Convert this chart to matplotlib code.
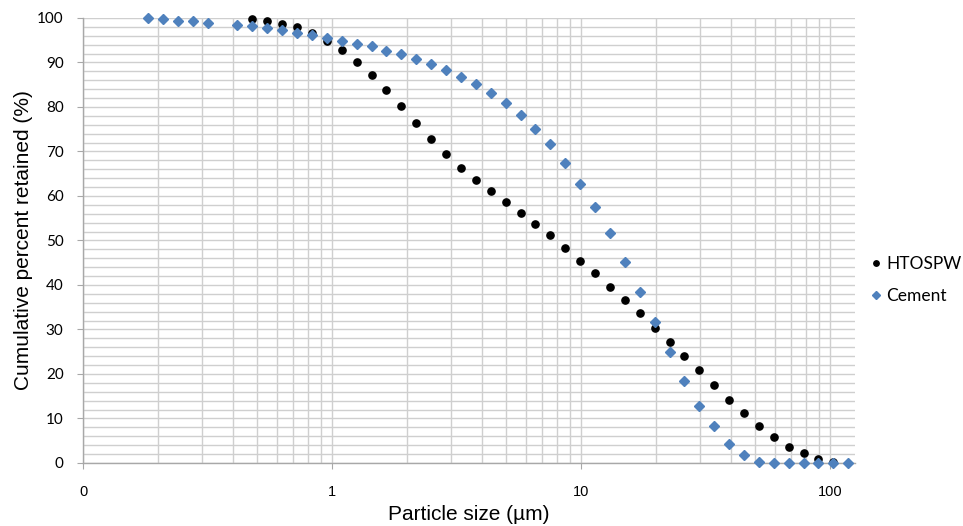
import matplotlib
matplotlib.use("Agg")
import matplotlib.pyplot as plt
from matplotlib.ticker import MultipleLocator, LogLocator, NullFormatter

# particle size classes (um)
cement_size = [0.182, 0.209, 0.240, 0.276, 0.317, 0.417, 0.479, 0.549, 0.630,
               0.722, 0.830, 0.953, 1.094, 1.256, 1.441, 1.654, 1.898, 2.179,
               2.500, 2.870, 3.293, 3.780, 4.338, 4.979, 5.714, 6.558, 7.527,
               8.638, 9.914, 11.38, 13.06, 14.99, 17.20, 19.74, 22.66, 26.00,
               29.84, 34.25, 39.31, 45.11, 51.78, 59.42, 68.20, 78.27, 89.83,
               103.1, 118.3]
cement_retained = [100.0, 99.7, 99.4, 99.4, 98.9, 98.5, 98.2, 97.7, 97.2,
                   96.7, 96.1, 95.5, 94.9, 94.2, 93.6, 92.5, 91.9, 90.8,
                   89.6, 88.2, 86.7, 85.1, 83.1, 80.8, 78.3, 75.1, 71.6,
                   67.5, 62.8, 57.5, 51.6, 45.1, 38.5, 31.6, 24.9, 18.4,
                   12.7, 8.2, 4.3, 1.8, 0.2, 0.0, 0.0, 0.0, 0.0,
                   0.0, 0.0]

htospw_size = [0.479, 0.549, 0.630, 0.722, 0.830, 0.953, 1.094, 1.256, 1.441,
               1.654, 1.898, 2.179, 2.500, 2.870, 3.293, 3.780, 4.338, 4.979,
               5.714, 6.558, 7.527, 8.638, 9.914, 11.38, 13.06, 14.99, 17.20,
               19.74, 22.66, 26.00, 29.84, 34.25, 39.31, 45.11, 51.78, 59.42,
               68.20, 78.27, 89.83, 103.1]
htospw_retained = [99.8, 99.3, 98.7, 98.0, 96.6, 94.8, 92.7, 90.2, 87.2,
                   83.8, 80.2, 76.3, 72.7, 69.4, 66.3, 63.7, 61.2, 58.6,
                   56.2, 53.7, 51.2, 48.4, 45.5, 42.6, 39.6, 36.6, 33.7,
                   30.4, 27.3, 24.0, 20.9, 17.6, 14.2, 11.2, 8.3, 5.8,
                   3.7, 2.2, 1.0, 0.2]

xtick_pos = [0.1, 1, 10, 100]
xtick_labels = ["0", "1", "10", "100"]

fig = plt.figure(figsize=(9.63, 5.26), dpi=100)
ax = fig.add_axes([0.0862, 0.1198, 0.8017, 0.8460])

ax.plot(htospw_size, htospw_retained, 'o', color='black', markersize=5.2,
        linestyle='none', label='HTOSPW', clip_on=False, zorder=3)
ax.plot(cement_size, cement_retained, 'D', color='#4F81BD', markersize=5.6,
        linestyle='none', label='Cement', clip_on=False, zorder=4)

ax.set_xscale('log')
ax.set_xlim(0.1, 126)
ax.set_ylim(0, 100)

ax.set_xticks(xtick_pos, labels=xtick_labels)
ax.xaxis.set_minor_locator(LogLocator(base=10, subs=range(2, 10), numticks=20))
ax.xaxis.set_minor_formatter(NullFormatter())
ax.yaxis.set_major_locator(MultipleLocator(10))
ax.yaxis.set_minor_locator(MultipleLocator(2))

ax.grid(which='both', color='#cfcfcf', linewidth=1.0)
ax.set_axisbelow(True)

for s in ['top', 'right']:
    ax.spines[s].set_visible(False)
for s in ['left', 'bottom']:
    ax.spines[s].set_color('#a8a8a8')
    ax.spines[s].set_linewidth(1.0)

ax.tick_params(which='major', length=4, color='#a8a8a8', direction='out')
ax.tick_params(which='minor', length=0)
ax.tick_params(axis='x', pad=12)
ax.tick_params(axis='y', pad=10)
for t in ax.get_xticklabels():
    t.set_family(['Liberation Sans', 'DejaVu Sans'])
    t.set_fontsize(10.5)
for t in ax.get_yticklabels():
    t.set_family(['Lato', 'DejaVu Sans'])
    t.set_fontsize(11)

ax.set_xlabel('Particle size (µm)', family=['Liberation Sans', 'DejaVu Sans'],
              fontsize=15, labelpad=4)
ax.set_ylabel('Cumulative percent retained (%)',
              family=['Liberation Sans', 'DejaVu Sans'], fontsize=15,
              labelpad=3)

leg = ax.legend(loc='center left', bbox_to_anchor=(0.899, 0.468),
                bbox_transform=fig.transFigure, frameon=False,
                prop={'family': ['Lato', 'DejaVu Sans'], 'size': 12.5},
                handletextpad=0.2, labelspacing=0.95, markerscale=0.75,
                handlelength=0.8, borderpad=0.2, borderaxespad=0)

fig.savefig('out.png', dpi=100)
